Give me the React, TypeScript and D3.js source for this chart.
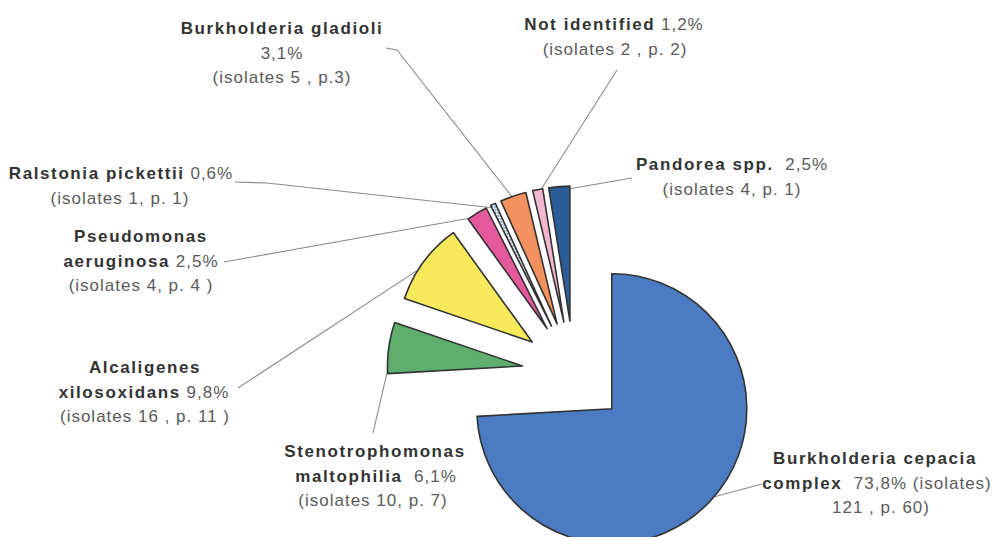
import React from "react";
import * as d3 from "d3";

// ---- Data ----
const categories = [
  "Burkholderia cepacia complex",
  "Stenotrophomonas maltophilia",
  "Alcaligenes xilosoxidans",
  "Pseudomonas aeruginosa",
  "Ralstonia pickettii",
  "Burkholderia gladioli",
  "Not identified",
  "Pandorea spp.",
];
const percentages = [73.8, 6.1, 9.8, 2.5, 0.6, 3.1, 1.2, 2.5];
const isolates = [121, 10, 16, 4, 1, 5, 2, 4];
const patients = [60, 7, 11, 4, 1, 3, 2, 1];
const colors = ["#4b7bc3", "#5fae6f", "#f7ea5a", "#e4589c", "url(#dots)", "#f3925f", "#f2b7cf", "#2b5d98"];

const pct = (i: number) => percentages[i].toFixed(1).replace(".", ",") + "%";

type Seg = [string, boolean];
// label lines (text built from data)
const labelLines: Seg[][][] = [
  [[["Burkholderia cepacia", true]], [["complex", true], ["  " + pct(0) + " (isolates)", false]], [[`${isolates[0]} , p. ${patients[0]})`, false]]],
  [[["Stenotrophomonas", true]], [["maltophilia", true], ["  " + pct(1), false]], [[`(isolates ${isolates[1]}, p. ${patients[1]})`, false]]],
  [[["Alcaligenes", true]], [["xilosoxidans", true], [" " + pct(2), false]], [[`(isolates ${isolates[2]} , p. ${patients[2]} )`, false]]],
  [[["Pseudomonas", true]], [["aeruginosa", true], [" " + pct(3), false]], [[`(isolates ${isolates[3]}, p. ${patients[3]} )`, false]]],
  [[["Ralstonia pickettii", true], [" " + pct(4), false]], [[`(isolates ${isolates[4]}, p. ${patients[4]})`, false]]],
  [[["Burkholderia gladioli", true]], [[pct(5), false]], [[`(isolates ${isolates[5]} , p.${patients[5]})`, false]]],
  [[["Not identified", true], [" " + pct(6), false]], [[`(isolates ${isolates[6]} , p. ${patients[6]})`, false]]],
  [[["Pandorea spp.", true], ["  " + pct(7), false]], [[`(isolates ${isolates[7]}, p. ${patients[7]})`, false]]],
];

// ---- Layout ----
const W = 994, H = 537;
const CX = 574, CY = 373, R = 135, EXPLODE = 52;
const LINE_H = 24.5;
// label line centre-x per line, baseline of first line
const labelX: number[][] = [
  [875, 877, 881],
  [375, 376, 373],
  [145, 144, 145],
  [141, 141, 141],
  [121, 120],
  [282, 282, 282],
  [614, 615],
  [732, 732],
];
const labelY = [464, 457, 373, 242, 179, 34, 30, 170];
const leaderStart: [number, number][][] = [
  [[762, 484]],
  [[373, 433]],
  [[238, 388]],
  [[224, 262]],
  [[235, 182], [267, 183]],
  [[386, 48], [397, 50]],
  [[617, 70]],
  [[632, 178]],
];

export default function App() {
  const pie = d3.pie<number>().sort(null).value((d) => d);
  const arcs = pie(percentages);
  const arc = d3.arc<d3.PieArcDatum<number>>().innerRadius(0).outerRadius(R);
  const rim = d3.arc<d3.PieArcDatum<number>>().innerRadius(R - 4).outerRadius(R - 4);

  const offset = (a: d3.PieArcDatum<number>) => {
    const m = (a.startAngle + a.endAngle) / 2;
    return [CX + EXPLODE * Math.sin(m), CY - EXPLODE * Math.cos(m)];
  };

  const line = d3.line();

  return (
    <svg width={W} height={H} style={{ position: "absolute", left: 0, top: 0, display: "block", background: "#fff" }}
      fontFamily="'Liberation Sans', Arial, sans-serif">
      <defs>
        <pattern id="dots" width="3" height="3" patternUnits="userSpaceOnUse">
          <rect width="3" height="3" fill="#eef2f6" />
          <rect width="1.6" height="1.6" fill="#5f7fa6" />
        </pattern>
      </defs>
      {/* leader lines */}
      <g fill="none" stroke="#8a8a8a" strokeWidth={1.1}>
        {arcs.map((a, i) => {
          const [ox, oy] = offset(a);
          const [mx, my] = rim.centroid(a);
          const pts: [number, number][] = [...leaderStart[i], [ox + mx, oy + my]];
          return <path key={i} d={line(pts) || ""} />;
        })}
      </g>
      {/* slices */}
      <g>
        {arcs.map((a, i) => {
          const [ox, oy] = offset(a);
          return (
            <path key={i} d={arc(a) || ""} transform={`translate(${ox},${oy})`}
              fill={colors[i]} stroke="#333" strokeWidth={1.6} strokeLinejoin="round" />
          );
        })}
      </g>
      {/* labels */}
      <g fontSize={17} textAnchor="middle">
        {labelLines.map((lines, i) => (
          <g key={i}>
            {lines.map((segs, j) => (
              <text key={j} x={labelX[i][j]} y={labelY[i] + j * LINE_H}>
                {segs.map(([t, b], k) => (
                  <tspan key={k} fontWeight={b ? "bold" : "normal"} fill={b ? "#333" : "#5a5a5a"}
                    letterSpacing={b ? 1.6 : 1.0} xmlSpace="preserve" style={{ whiteSpace: "pre" }}>
                    {t}
                  </tspan>
                ))}
              </text>
            ))}
          </g>
        ))}
      </g>
    </svg>
  );
}
